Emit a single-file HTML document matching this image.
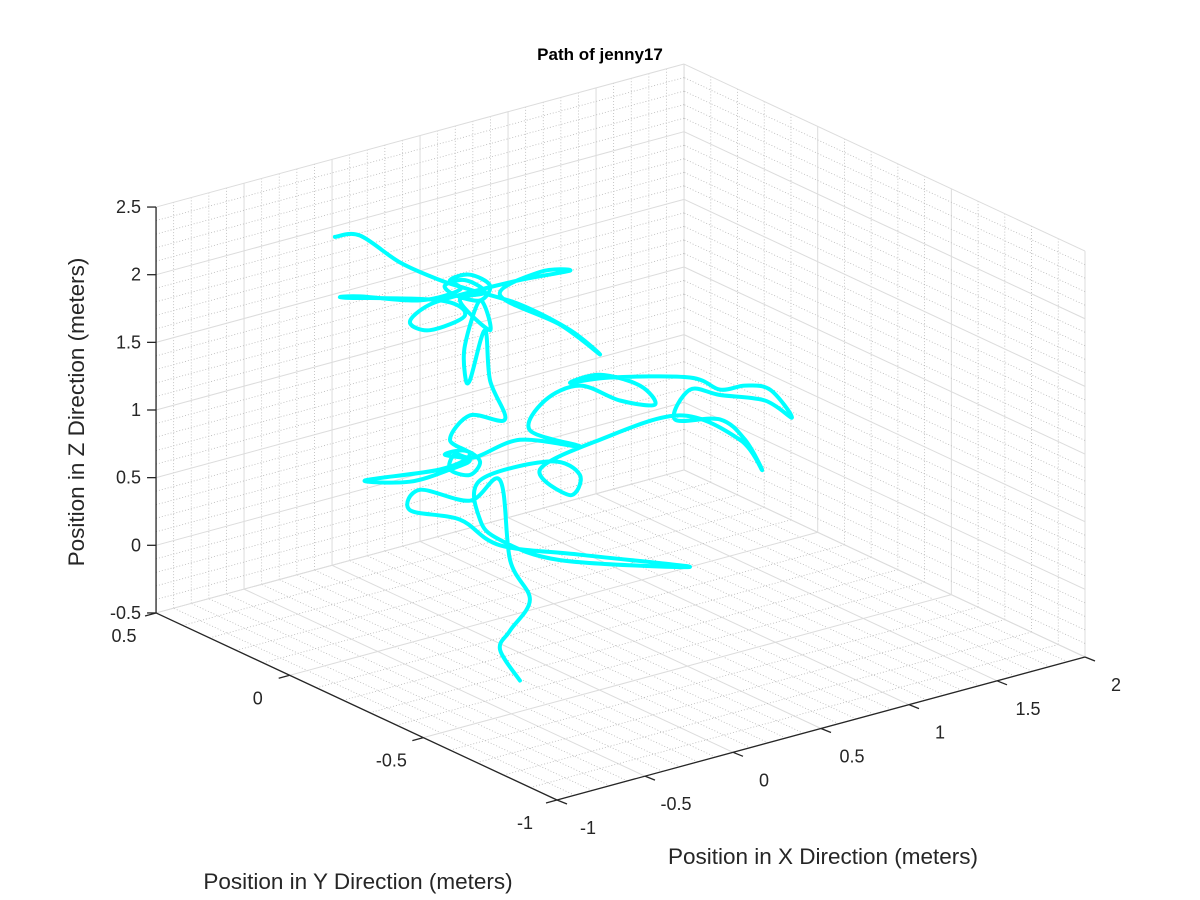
<!DOCTYPE html>
<html><head><meta charset="utf-8"><style>
body{margin:0;background:#fff;}
svg{display:block;font-family:"Liberation Sans",Arial,sans-serif;}
</style></head><body>
<svg id="chart" width="1200" height="900" viewBox="0 0 1200 900">
<rect width="1200" height="900" fill="#fff"/>
<g id="grid"></g>
<g id="axes"></g>
<path id="traj" fill="none" stroke="#00ffff" stroke-width="4" stroke-linejoin="round" stroke-linecap="round"/>
<text x="600" y="60" text-anchor="middle" font-weight="bold" font-size="17" fill="#000">Path of jenny17</text>
<text x="823" y="864" text-anchor="middle" font-size="22.5" fill="#262626">Position in X Direction (meters)</text>
<text x="358" y="889" text-anchor="middle" font-size="22.5" fill="#262626">Position in Y Direction (meters)</text>
<text x="0" y="0" transform="translate(84,412) rotate(-90)" text-anchor="middle" font-size="22.5" fill="#262626">Position in Z Direction (meters)</text>
</svg>
<script>
const xTicks=[-1,-0.5,0,0.5,1,1.5,2];
const yTicks=[-1,-0.5,0,0.5];
const zTicks=[-0.5,0,0.5,1,1.5,2,2.5];
const pathX=[-0.743,-0.601,-0.373,-0.146,0.024,0.308,0.593,0.763,0.536,0.195,0.422,0.593,0.308,0.024,-0.203,-0.317,-0.203,-0.004,-0.146,-0.686,-0.601,-0.260,-0.033,
 -0.089,0.024,0.138,0.081,-0.061,-0.118,-0.004,0.109,-0.033,
 0.138,0.081,-0.004,-0.004,0.024,0.109,0.138,0.223,0.024,-0.089,0.024,-0.146,-0.572,-0.317,-0.089,0.024,
 -0.118,-0.004,0.081,0.024,-0.089,-0.061,0.053,
 0.308,0.649,0.365,0.450,0.649,0.876,1.075,0.990,0.763,0.593,0.820,1.274,1.445,1.587,1.729,1.854,1.700,1.445,1.274,1.189,1.445,1.587,1.684,1.558,1.217,0.763,0.422,0.593,0.649,0.479,0.081,0.081,0.195,0.536,1.274,0.649,0.195,-0.033,-0.317,-0.260,0.024,0.195,0.252,0.365,0.252,0.195,0.308];
const pathY=pathX.map(()=>0);
const pathZ=[2.65,2.61,2.33,2.12,1.99,1.78,1.49,1.25,1.55,1.89,1.98,1.93,1.96,1.97,1.96,1.87,1.77,1.81,1.97,2.18,2.16,2.01,2.01,
 2.10,2.10,1.98,1.89,1.98,2.07,2.07,1.94,1.93,
 1.65,1.89,1.59,1.37,1.32,1.66,1.28,0.96,1.06,0.92,0.77,0.72,0.79,0.69,0.70,0.73,
 0.82,0.81,0.70,0.62,0.70,0.80,0.74,
 0.78,0.61,0.83,1.02,1.06,0.87,0.77,0.94,1.10,1.10,1.06,0.90,0.75,0.73,0.65,0.40,0.58,0.71,0.81,0.62,0.53,0.33,0.07,0.34,0.64,0.62,0.52,0.27,0.40,0.56,0.56,0.27,0.08,-0.19,-0.50,-0.19,0.04,0.31,0.48,0.61,0.43,0.52,-0.09,-0.42,-0.61,-0.73,-1.00];

const NS='http://www.w3.org/2000/svg';
function P(x,y,z){return [557+176*(x+1)-267.3*(y+1), 800-47.67*(x+1)-124.7*(y+1)-135.3*(z+0.5)];}
const grid=document.getElementById('grid'), axes=document.getElementById('axes');
function line(g,a,b,stroke,w,dash,name){
  const l=document.createElementNS(NS,'line');
  l.setAttribute('x1',a[0]);l.setAttribute('y1',a[1]);l.setAttribute('x2',b[0]);l.setAttribute('y2',b[1]);
  l.setAttribute('stroke',stroke);l.setAttribute('stroke-width',w);
  if(dash)l.setAttribute('stroke-dasharray',dash);
  
  
  g.appendChild(l);
}
function txt(g,x,y,s,anchor,name){
  const t=document.createElementNS(NS,'text');
  t.setAttribute('x',x);t.setAttribute('y',y);t.setAttribute('font-size','18');t.setAttribute('fill','#262626');
  t.setAttribute('text-anchor',anchor);t.textContent=s;
  
  
  g.appendChild(t);
}
for(let i=0;i<=30;i++){
  const x=-1+i*0.1, major=i%5===0;
  const c=major?'#dcdcdc':'#b8b8b8', w=major?1:0.8, d=major?null:'1,2';
  line(grid,P(x,-1,-0.5),P(x,0.5,-0.5),c,w,d,'floor-grid-x');
  line(grid,P(x,0.5,-0.5),P(x,0.5,2.5),c,w,d,'back-grid-x');
}
for(let i=0;i<=15;i++){
  const y=-1+i*0.1, major=i%5===0;
  const c=major?'#dcdcdc':'#b8b8b8', w=major?1:0.8, d=major?null:'1,2';
  line(grid,P(-1,y,-0.5),P(2,y,-0.5),c,w,d,'floor-grid-y');
  line(grid,P(2,y,-0.5),P(2,y,2.5),c,w,d,'side-grid-y');
}
for(let i=0;i<=30;i++){
  const z=-0.5+i*0.1, major=i%5===0;
  const c=major?'#dcdcdc':'#b8b8b8', w=major?1:0.8, d=major?null:'1,2';
  line(grid,P(-1,0.5,z),P(2,0.5,z),c,w,d,'back-grid-z');
  line(grid,P(2,-1,z),P(2,0.5,z),c,w,d,'side-grid-z');
}
const ax='#262626';
line(axes,P(-1,0.5,-0.5),P(-1,0.5,2.5),ax,1.3,null,'z-axis-line');
line(axes,P(-1,0.5,-0.5),P(-1,-1,-0.5),ax,1.3,null,'y-axis-line');
line(axes,P(-1,-1,-0.5),P(2,-1,-0.5),ax,1.3,null,'x-axis-line');
zTicks.forEach(z=>{const p=P(-1,0.5,z);line(axes,[p[0]-9,p[1]],p,ax,1.3,null,'z-tick');txt(axes,p[0]-15,p[1]+6,String(z),'end','z-tick-label');});
yTicks.forEach(y=>{const p=P(-1,y,-0.5);line(axes,[p[0]-11,p[1]+3],p,ax,1.3,null,'y-tick');txt(axes,p[0]-32,p[1]+29,String(y),'middle','y-tick-label');});
xTicks.forEach(x=>{const p=P(x,-1,-0.5);line(axes,[p[0]+10,p[1]+4],p,ax,1.3,null,'x-tick');txt(axes,p[0]+31,p[1]+34,String(x),'middle','x-tick-label');});
const pts=pathX.map((x,i)=>P(x,pathY[i],pathZ[i]));
let d='M'+pts[0][0].toFixed(1)+','+pts[0][1].toFixed(1);
for(let i=0;i<pts.length-1;i++){
  const p0=pts[Math.max(0,i-1)],p1=pts[i],p2=pts[i+1],p3=pts[Math.min(pts.length-1,i+2)];
  const c1=[p1[0]+(p2[0]-p0[0])/6,p1[1]+(p2[1]-p0[1])/6],c2=[p2[0]-(p3[0]-p1[0])/6,p2[1]-(p3[1]-p1[1])/6];
  d+=' C'+c1[0].toFixed(1)+','+c1[1].toFixed(1)+' '+c2[0].toFixed(1)+','+c2[1].toFixed(1)+' '+p2[0].toFixed(1)+','+p2[1].toFixed(1);
}
document.getElementById('traj').setAttribute('d',d);
</script>
</body></html>
